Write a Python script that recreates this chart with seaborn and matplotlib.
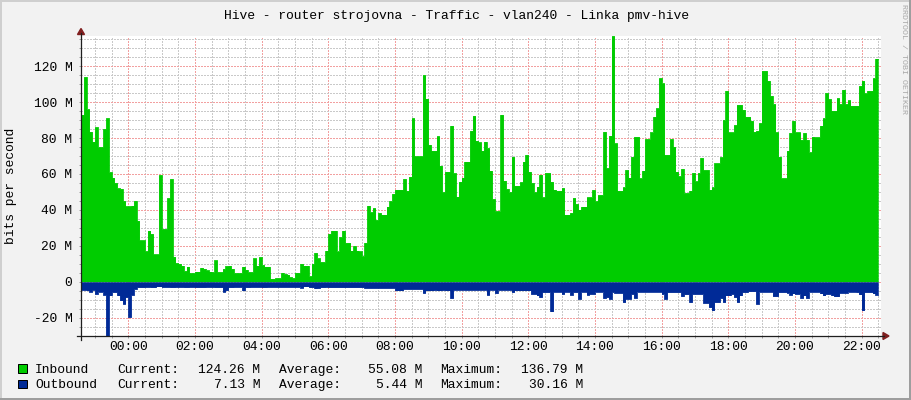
import numpy as np
import pandas as pd
import matplotlib
matplotlib.use("Agg")
import matplotlib.pyplot as plt
import matplotlib.dates as mdates
from matplotlib.ticker import MultipleLocator, FuncFormatter
from matplotlib.lines import Line2D
from matplotlib.patches import Polygon, Rectangle
import seaborn as sns

# ---------------- data ----------------
title = "Hive - router strojovna - Traffic - vlan240 - Linka pmv-hive"
y_label = "bits per second"
watermark = "RRDTOOL / TOBI OETIKER"
start_time = "2024-05-01 22:35"
step = "5min"
series_names = ["Inbound", "Outbound"]
series_colors = ["#00CC00", "#002A97"]
legend_current = ["124.26 M", "7.13 M"]
legend_average = ["55.08 M", "5.44 M"]
legend_maximum = ["136.79 M", "30.16 M"]
y_min, y_max = -30.16, 136.79

# inbound traffic, Mbit/s, one value per 5 minutes
inbound = [
    93, 114, 96, 83.5, 78, 86, 75, 75, 85, 91,
    61, 58, 55, 52, 51.7, 45, 42, 42, 42.4, 45,
    34, 23, 23, 17, 28.5, 26.7, 15.2, 15.2, 59.4, 29.4,
    29.4, 46.5, 57.2, 14, 10.4, 10, 9, 6, 8.5, 4.8,
    4.8, 5.7, 5.7, 7.8, 7.2, 6.3, 5.7, 5.4, 11.9, 5.4,
    5.4, 7.2, 8.7, 9, 7.2, 4.8, 4.8, 4.8, 8.5, 6.7,
    5.4, 5.4, 13, 9, 13.7, 9.4, 8.5, 8.5, 1.7, 1.7,
    2, 2, 5, 4.3, 4, 2.6, 2, 5, 5, 10,
    9, 9, 3.1, 10, 16.1, 13, 11, 11, 17.4, 26.7,
    28.5, 28.5, 16.9, 24.8, 28.5, 21.7, 21.7, 17.4, 19.8, 17.4,
    16.9, 14.3, 21.7, 42.4, 38.7, 41, 34.4, 38.3, 37.4, 37.4,
    41.9, 44.8, 48.9, 51.3, 51.3, 51.3, 57.2, 50.7, 58.5, 91,
    69.8, 69.8, 69.8, 115, 102, 76.3, 73, 73, 81, 64.6,
    49.8, 61.3, 61.3, 86.9, 60.4, 47.4, 55.7, 58, 66.9, 66.9,
    84, 92.4, 78.5, 77.6, 73, 78, 74.4, 61.9, 46, 39.3,
    39.3, 93, 56.3, 51.7, 49.8, 69.6, 53.5, 53.5, 55.4, 66.9,
    70.6, 61.3, 55, 49.8, 53, 59.6, 47, 60.6, 60.6, 55.7,
    51.3, 50.7, 50.7, 52.2, 37.4, 37.4, 38.3, 46.7, 43.3, 40.2,
    41.9, 41.9, 47, 47, 51.1, 44.8, 48.3, 48.3, 83.5, 63.3,
    81.3, 136.79, 77, 50.7, 50.7, 52.6, 62.2, 58, 69.6, 80.7,
    80.7, 57.6, 61.9, 79.4, 79.4, 83.1, 91.9, 96.5, 113.3, 110.4,
    70.7, 70.7, 79.4, 75.2, 61.3, 58.7, 62.8, 49.4, 49.4, 50.7,
    60.6, 55.9, 60.6, 68.9, 62.2, 62.2, 51.3, 52.6, 65.9, 65.9,
    69.3, 90, 106.3, 83.1, 83.1, 87.2, 98.5, 98.5, 95.7, 91.9,
    91.9, 89.6, 83.5, 84, 88.3, 117.4, 117.4, 111.9, 103.5, 98.9,
    83.1, 69.6, 57.6, 57.6, 73, 82.8, 89.6, 83.1, 83.1, 79,
    82.8, 79, 72, 80.7, 80.4, 80.4, 86.9, 91, 105, 101.7,
    95.2, 95.2, 102.2, 98.9, 106.9, 98.9, 101, 98, 98, 98,
    109, 111.9, 104.8, 106.3, 106.3, 113.3, 124.26,
]

# outbound traffic, Mbit/s (drawn below zero)
outbound = [
    4.4, 4.4, 4.8, 5.4, 4.4, 6.7, 5.4, 5.4, 7.2, 30.16,
    7.6, 5.7, 5.7, 7.6, 10.4, 12.2, 8.5, 19.6, 7.2, 3.9,
    3.0, 3.0, 3.0, 2.8, 2.8, 3.0, 3.0, 2.6, 2.6, 2.8,
    2.8, 2.8, 3.0, 3.0, 2.8, 2.8, 2.8, 3.0, 3.0, 2.8,
    2.8, 3.0, 3.0, 3.0, 3.0, 2.8, 2.8, 2.8, 3.0, 3.0,
    3.0, 5.4, 4.6, 3.0, 3.0, 2.8, 2.8, 2.8, 4.8, 3.0,
    3.0, 2.8, 2.8, 2.8, 2.8, 3.0, 3.0, 2.8, 2.8, 2.8,
    2.8, 2.8, 2.8, 2.8, 2.8, 2.8, 2.8, 2.8, 2.8, 3.2,
    2.6, 2.6, 3.0, 3.0, 3.6, 3.4, 3.0, 3.0, 2.8, 3.0,
    3.0, 3.0, 3.0, 3.0, 3.0, 3.0, 3.0, 3.0, 3.0, 3.0,
    3.0, 3.0, 3.3, 3.3, 3.3, 3.3, 3.3, 3.3, 3.3, 3.3,
    3.3, 3.3, 3.3, 4.8, 4.8, 4.8, 3.9, 3.9, 3.9, 3.9,
    3.9, 3.9, 3.9, 6.1, 4.8, 4.8, 4.8, 4.5, 4.8, 4.8,
    4.5, 4.8, 4.8, 9.0, 4.3, 4.3, 4.3, 4.3, 4.4, 4.4,
    4.4, 4.4, 4.4, 4.3, 4.3, 4.3, 7.2, 4.3, 4.3, 6.3,
    4.4, 4.4, 4.4, 4.4, 4.4, 5.7, 4.8, 4.8, 4.8, 4.8,
    4.8, 4.8, 6.7, 6.7, 7.6, 8.5, 5.7, 5.7, 5.7, 16.5,
    5.4, 5.4, 5.4, 6.7, 5.4, 5.4, 7.2, 5.7, 5.7, 9.4,
    5.4, 5.4, 7.2, 6.7, 6.7, 5.4, 5.4, 5.4, 9.0, 8.5,
    9.4, 5.7, 6.1, 6.1, 6.1, 11.3, 9.4, 9.4, 6.7, 8.9,
    5.4, 5.4, 5.4, 5.4, 5.4, 5.4, 5.4, 5.4, 5.4, 6.7,
    9.4, 5.7, 5.7, 5.7, 5.7, 5.7, 8.0, 6.9, 6.9, 11.3,
    6.7, 6.7, 6.7, 6.7, 11.7, 11.7, 14.1, 15.9, 11.3, 11.3,
    9.0, 11.3, 7.6, 7.6, 6.7, 8.5, 11.3, 7.6, 5.7, 5.7,
    5.2, 5.2, 5.2, 12.2, 5.4, 5.4, 5.4, 5.4, 5.4, 8.0,
    8.0, 5.7, 5.7, 5.7, 6.0, 7.2, 6.5, 6.7, 6.7, 9.0,
    7.6, 9.0, 5.4, 5.4, 5.4, 5.4, 6.5, 7.6, 6.7, 6.7,
    7.5, 8.1, 8.1, 6.1, 6.1, 6.1, 5.4, 5.4, 5.4, 5.7,
    7.0, 15.9, 5.7, 5.7, 5.7, 6.5, 7.13,
]

# ---------------- style ----------------
W, H = 911, 400
BACK = "#F2F2F2"
SHADE_A = "#CFCFCF"
SHADE_B = "#9E9E9E"
GRID = "#C9C9C9"
MGRID = "#F2A0A0"
AXIS = "#1F1F1F"
ARROW = "#801F1F"
FS = 9.4

plt.rcParams["font.family"] = ["Liberation Mono", "DejaVu Sans Mono"]
plt.rcParams["font.size"] = FS


def fx(x):
    return x / W


def fy(y):
    return 1 - y / H


fig = plt.figure(figsize=(W / 100, H / 100), dpi=100, facecolor=BACK)
ax = fig.add_axes([fx(81), fy(336), 800 / W, 300 / H])
ax.set_facecolor("white")


def series_frame(values, sign):
    t = pd.date_range(start_time, periods=len(values) + 1, freq=step)
    v = [sign * x for x in values] + [sign * values[-1]]
    return pd.DataFrame({"time": t, "value": v})


df_in = series_frame(inbound, 1)
df_out = series_frame(outbound, -1)

for df, col in ((df_in, series_colors[0]), (df_out, series_colors[1])):
    ax.fill_between(df["time"], 0, df["value"], step="post", color=col,
                    linewidth=0, zorder=3)
    sns.lineplot(data=df, x="time", y="value", drawstyle="steps-post",
                 color=col, linewidth=0.6, ax=ax, zorder=3, legend=False)

t0 = pd.Timestamp(start_time)
ax.set_xlim(t0, t0 + pd.Timedelta(hours=24))
ax.set_ylim(y_min, y_max)
ax.set_xlabel("")
ax.set_ylabel("")

ax.xaxis.set_major_locator(mdates.HourLocator(byhour=range(0, 24, 2)))
ax.xaxis.set_minor_locator(mdates.MinuteLocator(byminute=[0, 30]))
ax.xaxis.set_major_formatter(mdates.DateFormatter("%H:%M"))
ax.yaxis.set_major_locator(MultipleLocator(20))
ax.yaxis.set_minor_locator(MultipleLocator(5))
ax.yaxis.set_major_formatter(
    FuncFormatter(lambda v, p: "0" if abs(v) < 1e-9 else f"{v:.0f} M"))

dash = (0, (1.39, 1.39))
ax.grid(which="minor", color=GRID, linestyle=dash, linewidth=0.72,
        antialiased=False, zorder=1)
ax.grid(which="major", color=MGRID, linestyle=dash, linewidth=0.72,
        antialiased=False, zorder=1)
ax.set_axisbelow(True)

ax.tick_params(which="both", direction="out", length=1.6, width=0.72,
               color="#A0A0A0", labelsize=FS)
ax.tick_params(axis="y", which="both", pad=4.6)
ax.tick_params(axis="x", which="both", pad=2.0)
for s in ax.spines.values():
    s.set_visible(False)

# axis lines and arrows
fig.add_artist(Line2D([fx(81), fx(81)], [fy(340), fy(33)], color=AXIS,
                      linewidth=0.9, transform=fig.transFigure))
fig.add_artist(Line2D([fx(77), fx(884)], [fy(336), fy(336)], color=AXIS,
                      linewidth=0.9, transform=fig.transFigure))
fig.add_artist(Polygon([[fx(77.5), fy(34.5)], [fx(84.5), fy(34.5)], [fx(81), fy(28.5)]],
                       closed=True, color=ARROW, transform=fig.transFigure))
fig.add_artist(Polygon([[fx(883), fy(332.5)], [fx(883), fy(339.5)], [fx(889), fy(336)]],
                       closed=True, color=ARROW, transform=fig.transFigure))

# frame shading
fig.add_artist(Rectangle((0, fy(2)), 1, 2 / H, color=SHADE_A, transform=fig.transFigure, lw=0))
fig.add_artist(Rectangle((0, 0), 2 / W, 1, color=SHADE_A, transform=fig.transFigure, lw=0))
fig.add_artist(Rectangle((0, 0), 1, 2 / H, color=SHADE_B, transform=fig.transFigure, lw=0))
fig.add_artist(Rectangle((fx(909), 0), 2 / W, 1, color=SHADE_B, transform=fig.transFigure, lw=0))

# texts
fig.text(fx(456), fy(18.5), title, ha="center", va="baseline", fontsize=FS)
fig.text(fx(11.5), fy(186), y_label, ha="center", va="center", rotation=90, fontsize=FS)
fig.text(fx(903), fy(4), watermark, ha="center", va="top", rotation=270,
         fontsize=6.0, color="#A8A8A8")

rows = [372.7, 388.3]
for i in range(2):
    yb = rows[i]
    fig.add_artist(Rectangle((fx(17.5), fy(yb)), 9 / W, 8.6 / H,
                             facecolor=series_colors[i], edgecolor="black",
                             linewidth=0.72, transform=fig.transFigure))
    fig.text(fx(35), fy(yb), series_names[i], ha="left", va="baseline")
    fig.text(fx(117), fy(yb), "Current:", ha="left", va="baseline")
    fig.text(fx(260.5), fy(yb), legend_current[i], ha="right", va="baseline")
    fig.text(fx(279), fy(yb), "Average:", ha="left", va="baseline")
    fig.text(fx(422), fy(yb), legend_average[i], ha="right", va="baseline")
    fig.text(fx(440), fy(yb), "Maximum:", ha="left", va="baseline")
    fig.text(fx(583), fy(yb), legend_maximum[i], ha="right", va="baseline")

fig.savefig("out.png", dpi=100, facecolor=BACK)
